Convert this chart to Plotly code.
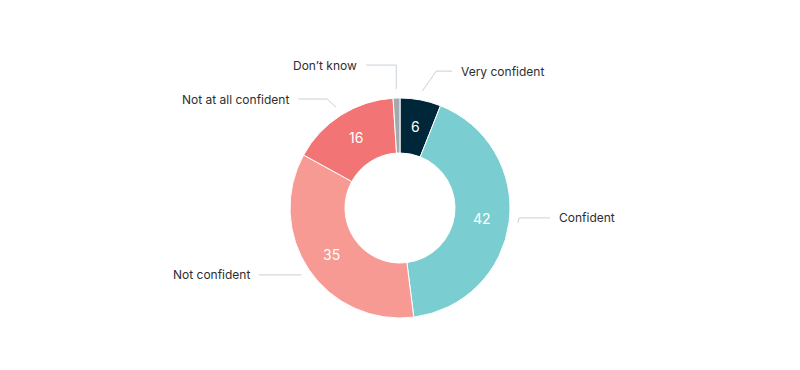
import math
import plotly.graph_objects as go

# ---- data ----
categories = ["Very confident", "Confident", "Not confident", "Not at all confident", "Don’t know"]
values = [6, 42, 35, 16, 1]
show_inside = [True, True, True, True, False]

# ---- style / layout ----
colors = ["#00263A", "#7ACED1", "#F79A94", "#F27474", "#A2AAAD"]
W, H = 800, 370
CX, CY, R = 400, 208, 110
HOLE = 0.5
LABEL_R = 83        # radius for inside value labels
CONN_R = 119        # connector start radius
# per-label connector geometry: (label y shift from connector start, crook x offset, horizontal length)
CONNECTORS = [(-20, 14, 16), (-5, 1, 31), (0, 0, 43), (-8.5, -9, 29), (-24, 0, 30)]
TEXT_GAP = 7
FONT = "Inter, Noto Sans, sans-serif"


def px(x):
    return x / W


def py(y):
    return 1 - y / H


fig = go.Figure(go.Pie(
    labels=categories,
    values=values,
    hole=HOLE,
    sort=False,
    direction="clockwise",
    rotation=0,
    textinfo="none",
    marker=dict(colors=colors, line=dict(color="white", width=1)),
    domain=dict(x=[px(CX - R), px(CX + R)], y=[py(CY + R), py(CY - R)]),
    showlegend=False,
    hoverinfo="label+value",
))

total = sum(values)
cum = 0
annotations = []
shapes = []
for name, v, inside, conn in zip(categories, values, show_inside, CONNECTORS):
    mid = math.radians((cum + v / 2) / total * 360)
    cum += v
    s, c = math.sin(mid), math.cos(mid)
    if inside:
        annotations.append(dict(
            x=px(CX + LABEL_R * s), y=py(CY - LABEL_R * c), xref="paper", yref="paper",
            text=str(v), showarrow=False, xanchor="center", yanchor="middle",
            font=dict(family=FONT, size=14, color="white"),
        ))
    side = 1 if s > 0 else -1
    dy, cdx, hl = conn
    sx, sy = CX + CONN_R * s, CY - CONN_R * c
    ly = sy + dy
    kx = sx + cdx
    ex = kx + side * hl
    shapes.append(dict(
        type="path", xref="paper", yref="paper",
        path=f"M {px(sx)} {py(sy)} L {px(kx)} {py(ly)} L {px(ex)} {py(ly)}",
        line=dict(color="#C9D1D9", width=1),
    ))
    annotations.append(dict(
        x=px(ex + side * TEXT_GAP), y=py(ly), xref="paper", yref="paper",
        text=name, showarrow=False, xanchor="left" if side > 0 else "right", yanchor="middle",
        font=dict(family=FONT, size=12, color="#2E2E2E"),
    ))

fig.update_layout(
    width=W, height=H,
    margin=dict(l=0, r=0, t=0, b=0),
    paper_bgcolor="white", plot_bgcolor="white",
    annotations=annotations, shapes=shapes,
)

fig.write_html(
    "out.html",
    config={"displayModeBar": False},
    post_script="document.body.style.margin='0';document.body.style.padding='0';",
)
